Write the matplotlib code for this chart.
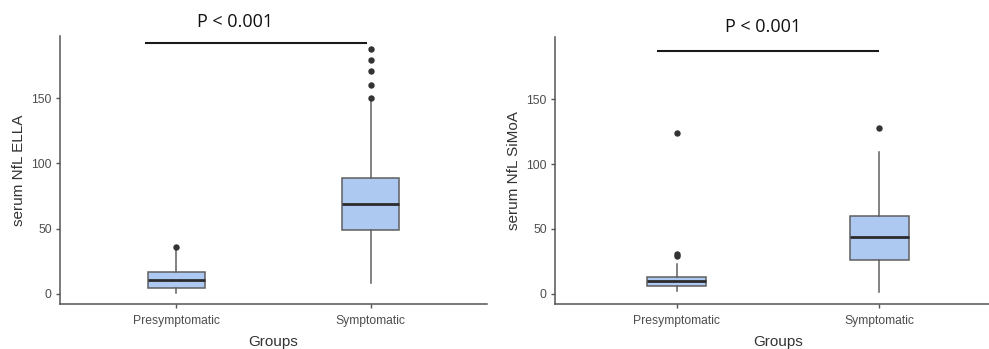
import matplotlib
matplotlib.use("Agg")
import matplotlib.pyplot as plt

groups = ["Presymptomatic", "Symptomatic"]

# serum NfL measured on ELLA
ella_q1 = [4.4, 48.7]
ella_med = [10.3, 69.0]
ella_q3 = [16.9, 88.7]
ella_lo = [0.8, 7.9]
ella_hi = [34.0, 148.5]
ella_out = [[36.0], [150.5, 160.5, 171.3, 179.2, 188.2]]

# serum NfL measured on SiMoA
simoa_q1 = [5.6, 25.9]
simoa_med = [9.5, 43.8]
simoa_q3 = [13.0, 60.2]
simoa_lo = [2.0, 1.5]
simoa_hi = [22.5, 108.9]
simoa_out = [[29.0, 30.2, 124.0], [127.9]]

p_label = "P < 0.001"

W, H = 989, 349
FILL = "#adc9f1"
EDGE = "#5f5f5f"
AX_COL = "#555555"
TXT = "#4d4d4d"

plt.rcParams["font.family"] = ["Liberation Sans", "DejaVu Sans"]

fig = plt.figure(figsize=(W / 100, H / 100), dpi=100)


def px_axes(x0, y0, x1, y1):
    return fig.add_axes([x0 / W, 1 - y1 / H, (x1 - x0) / W, (y1 - y0) / H])


def panel(ax, q1, med, q3, lo, hi, out, ylabel, bar_x, bar_y, txt_x, txt_y):
    stats = []
    for i in range(len(groups)):
        stats.append(dict(q1=q1[i], med=med[i], q3=q3[i], whislo=lo[i],
                          whishi=hi[i], fliers=out[i]))
    ax.bxp(stats, positions=[1, 2], widths=0.29, patch_artist=True,
           showcaps=False,
           boxprops=dict(facecolor=FILL, edgecolor=EDGE, linewidth=1.1),
           medianprops=dict(color="#2b2b2b", linewidth=2.0),
           whiskerprops=dict(color=EDGE, linewidth=1.1),
           flierprops=dict(marker="o", markersize=3.6, markerfacecolor="#333333",
                           markeredgecolor="#333333"))
    ax.set_xlim(0.4, 2.6)
    ax.set_ylim(-8, 198)
    ax.set_yticks([0, 50, 100, 150])
    ax.set_xticks([1, 2])
    ax.set_xticklabels(groups)
    for s in ["top", "right"]:
        ax.spines[s].set_visible(False)
    for s in ["left", "bottom"]:
        ax.spines[s].set_color(AX_COL)
        ax.spines[s].set_linewidth(1.1)
    ax.tick_params(axis="both", colors=AX_COL, labelcolor=TXT, labelsize=8.7,
                   length=3, width=1)
    ax.tick_params(axis="x", pad=5)
    ax.tick_params(axis="y", pad=3)
    ax.set_xlabel("Groups", fontsize=11, color="#333333", labelpad=6)
    ax.set_ylabel(ylabel, fontsize=11, color="#333333", labelpad=4)
    ax.plot(bar_x, [bar_y, bar_y], color="#1a1a1a", linewidth=1.5,
            clip_on=False)
    ax.text(txt_x, txt_y, p_label, ha="center", va="center",
            fontsize=13, color="#111111", family=["Open Sans", "DejaVu Sans"],
            clip_on=False)


ax1 = px_axes(60, 36, 487, 304)
panel(ax1, ella_q1, ella_med, ella_q3, ella_lo, ella_hi, ella_out,
      "serum NfL ELLA", [0.843, 1.977], 193, 1.302, 209)

ax2 = px_axes(555, 37, 1001, 304)
panel(ax2, simoa_q1, simoa_med, simoa_q3, simoa_lo, simoa_hi, simoa_out,
      "serum NfL SiMoA", [0.908, 1.993], 187, 1.424, 206)

fig.savefig("out.png", dpi=100)
